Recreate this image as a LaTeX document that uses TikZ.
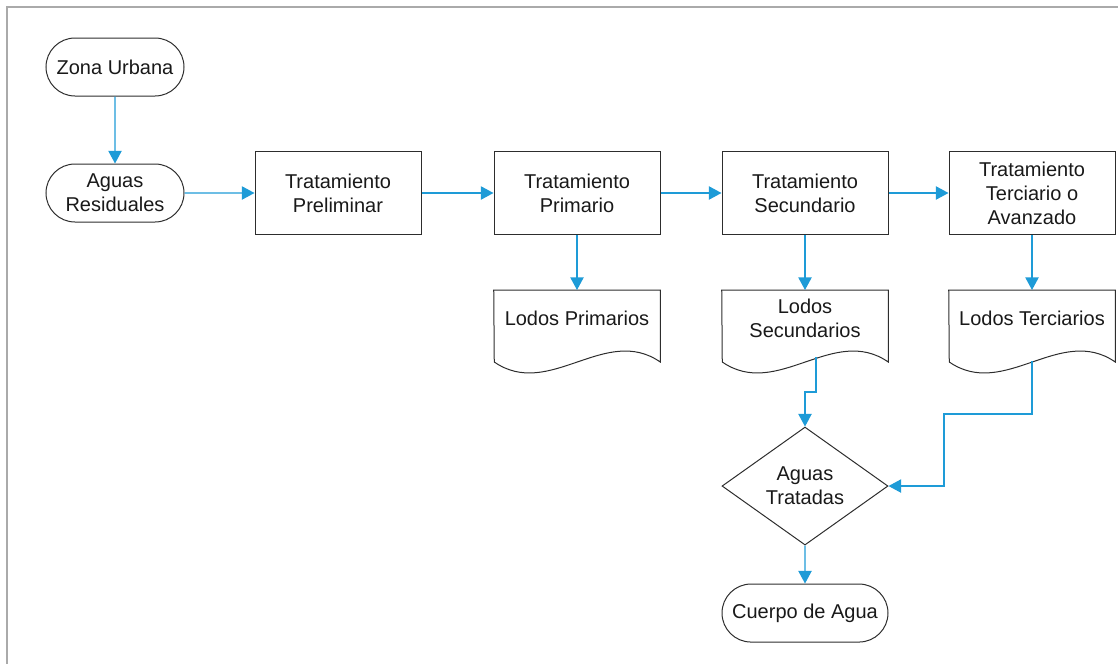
\documentclass[tikz,border=0pt]{standalone}
\usepackage{fontspec}
\setmainfont{Liberation Sans}
\usetikzlibrary{arrows.meta,positioning,shapes.geometric,shapes.misc}
\definecolor{cblue}{RGB}{30,155,215}
\definecolor{cframe}{RGB}{170,170,170}
\definecolor{cline}{RGB}{45,45,45}
\definecolor{ctext}{RGB}{25,25,25}
% outline of a document shape (wavy bottom) round a doc node
\newcommand{\lododoc}[1]{%
  \draw[cline,line width=0.75pt] (#1.north west) -- (#1.north east) -- ++(0,-54pt)
    .. controls +(-41.25pt,28.5pt) and +(41.25pt,-28.5pt) .. ++(-124.5pt,0) -- cycle;}

\begin{document}
\begin{tikzpicture}[x=0.75pt,y=-0.75pt,>={Triangle[length=9.5pt,width=10pt]},
  font=\fontsize{15}{18}\selectfont,text=ctext,
  term node/.style={rounded rectangle,draw=cline,line width=0.75pt,minimum width=103.5pt,
    minimum height=43.5pt,inner sep=0pt,align=center},
  proc node/.style={rectangle,draw=cline,line width=0.75pt,minimum width=124.5pt,
    minimum height=62.25pt,inner sep=0pt,align=center},
  doc node/.style={rectangle,minimum width=124.5pt,minimum height=42pt,inner sep=0pt,align=center},
  dec node/.style={diamond,draw=cline,line width=0.75pt,minimum width=124.5pt,
    minimum height=88.5pt,inner sep=0pt,align=center},
  flow/.style={->,cblue,line width=1pt}]
  \useasboundingbox (0,0) rectangle (1118,664);
  \draw[cframe,line width=1.5pt] (6.5,664) -- (6.5,7) -- (1118,7);

  \node[term node] (zu) at (115,67) {Zona Urbana};
  \node[term node] (ar) [below=50.25pt of zu] {Aguas\\Residuales};
  \node[proc node] (tp) [right=52.5pt of ar] {Tratamiento\\Preliminar};
  \node[proc node] (tpr) [right=54pt of tp] {Tratamiento\\Primario};
  \node[proc node] (ts) [right=45.75pt of tpr] {Tratamiento\\Secundario};
  \node[proc node] (tt) [right=45pt of ts] {Tratamiento\\Terciario o\\Avanzado};
  \node[doc node] (lp) [below=41.25pt of tpr] {Lodos Primarios};
  \node[doc node] (ls) [below=41.25pt of ts] {Lodos\\Secundarios};
  \node[doc node] (lt) [below=41.25pt of tt] {Lodos Terciarios};
  \node[dec node] (at) [below=60pt of ls] {Aguas\\Tratadas};
  \node[term node,minimum width=124.5pt] (cda) [below=28.5pt of at] {Cuerpo de Agua};

  \lododoc{lp}
  \lododoc{ls}
  \lododoc{lt}
  \coordinate (ls out) at (816,357);
  \coordinate (lt out) at (1032,361);

  \draw[flow] (zu) -- (ar);
  \draw[flow] (ar) -- (tp);
  \draw[flow] (tp) -- (tpr);
  \draw[flow] (tpr) -- (ts);
  \draw[flow] (ts) -- (tt);
  \draw[flow] (tpr) -- (lp);
  \draw[flow] (ts) -- (ls);
  \draw[flow] (tt) -- (lt);
  \draw[flow] (ls out) -- ++(0,35) -| (at.north);
  \draw[flow] (lt out) -- ++(0,53) -- ++(-88,0) |- (at.east);
  \draw[flow] (at) -- (cda);
\end{tikzpicture}
\end{document}
